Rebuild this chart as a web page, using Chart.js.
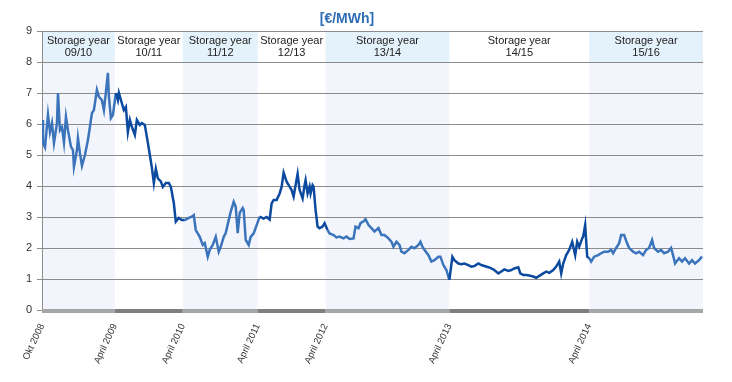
<!DOCTYPE html>
<html lang="en">
<head>
  <meta charset="UTF-8" />
  <title>Storage year spreads [€/MWh]</title>
  <script src="https://cdn.jsdelivr.net/npm/chart.js"></script>
  <style>
    body { margin:0; background:#fff; }
    #wrap { width:732px; height:382px; }
  </style>
</head>
<body>
  <div id="wrap"><canvas id="chart"></canvas></div>
  <script>
    // ==== data ====
    const bandStarts = [0, 73, 141, 216, 284, 408, 548];
    const bandEnd = 662;
    const bandNames = ['09/10', '10/11', '11/12', '12/13', '13/14', '14/15', '15/16'];
    const tickLabels = ['Okt 2008', 'April 2009', 'April 2010', 'April 2011', 'April 2012', 'April 2013', 'April 2014'];

    const days = [
      0, 1, 3, 6, 8, 10, 12, 15, 16, 18, 20, 22, 24, 26, 29, 31, 32, 35, 36, 38,
      40, 43, 46, 48, 50, 52, 55, 57, 60, 62, 64, 66, 67, 69, 71, 74, 76, 77, 80, 82,
      84, 86, 88, 90, 93, 95, 98, 100, 103, 106, 108, 110, 112, 114, 116, 119, 121, 124, 127, 129,
      132, 134, 137, 140, 143, 147, 150, 152, 154, 158, 161, 163, 166, 168, 171, 174, 177, 179, 182, 184,
      187, 189, 192, 194, 196, 198, 201, 202, 204, 207, 209, 212, 215, 218, 222, 225, 228, 230, 232, 235,
      238, 240, 242, 245, 248, 250, 252, 254, 256, 258, 261, 263, 264, 266, 268, 269, 271, 272, 274, 276,
      278, 281, 283, 286, 288, 292, 295, 298, 302, 305, 308, 312, 314, 317, 319, 322, 324, 327, 330, 333,
      337, 340, 343, 347, 350, 352, 355, 358, 360, 363, 367, 370, 373, 377, 379, 381, 383, 387, 390, 393,
      397, 399, 402, 405, 408, 411, 413, 417, 420, 423, 427, 430, 433, 437, 440, 443, 447, 450, 453, 457,
      460, 463, 467, 470, 473, 477, 479, 482, 485, 488, 492, 495, 498, 502, 505, 508, 512, 515, 518, 520,
      522, 525, 528, 531, 534, 536, 538, 541, 542, 544, 546, 548, 550, 553, 557, 560, 563, 567, 570, 572,
      575, 578, 580, 583, 586, 588, 592, 595, 598, 602, 605, 608, 611, 613, 617, 620, 623, 627, 630, 632,
      634, 638, 641, 644, 648, 651, 654, 658, 661
    ];
    const price = [
      6.13, 5.39, 5.25, 6.30, 5.74, 6.03, 5.39, 6.03, 7.00, 5.80, 5.90, 5.40, 6.23, 5.80, 5.27, 5.16, 4.62, 5.16, 5.55, 5.06,
      4.65, 5.00, 5.48, 5.91, 6.35, 6.45, 7.10, 6.88, 6.77, 6.45, 7.03, 7.65, 6.88, 6.19, 6.29, 7.00, 6.77, 7.00, 6.67, 6.45,
      6.55, 5.74, 6.13, 5.91, 5.65, 6.13, 5.97, 6.03, 5.97, 5.40, 5.00, 4.60, 4.10, 4.55, 4.25, 4.15, 3.97, 4.10, 4.10, 3.98,
      3.45, 2.85, 2.97, 2.90, 2.90, 2.97, 3.01, 3.06, 2.58, 2.36, 2.10, 2.16, 1.72, 1.94, 2.10, 2.36, 1.88, 2.04, 2.36, 2.48,
      2.90, 3.17, 3.49, 3.33, 2.48, 3.13, 3.29, 3.23, 2.26, 2.10, 2.36, 2.47, 2.74, 3.01, 2.95, 3.00, 2.92, 3.44, 3.55, 3.55,
      3.76, 3.98, 4.43, 4.14, 3.98, 3.87, 3.66, 4.03, 4.39, 3.87, 3.60, 4.03, 4.19, 3.76, 3.98, 3.76, 4.03, 3.98, 3.23, 2.69,
      2.64, 2.69, 2.80, 2.58, 2.47, 2.42, 2.34, 2.37, 2.31, 2.37, 2.29, 2.31, 2.69, 2.64, 2.80, 2.86, 2.93, 2.74, 2.64, 2.53,
      2.64, 2.42, 2.42, 2.31, 2.20, 2.04, 2.20, 2.10, 1.88, 1.83, 1.94, 2.04, 1.99, 2.10, 2.20, 2.04, 1.94, 1.77, 1.56, 1.61,
      1.72, 1.72, 1.45, 1.29, 0.97, 1.72, 1.61, 1.50, 1.48, 1.50, 1.45, 1.40, 1.42, 1.50, 1.45, 1.42, 1.38, 1.34, 1.29, 1.18,
      1.24, 1.31, 1.26, 1.29, 1.34, 1.38, 1.18, 1.13, 1.13, 1.11, 1.08, 1.04, 1.10, 1.18, 1.24, 1.20, 1.29, 1.40, 1.56, 1.18,
      1.50, 1.77, 1.94, 2.20, 1.77, 2.20, 2.04, 2.31, 2.37, 2.74, 1.72, 1.67, 1.56, 1.72, 1.77, 1.83, 1.88, 1.88, 1.94, 1.83,
      2.00, 2.15, 2.42, 2.42, 2.15, 2.00, 1.88, 1.83, 1.88, 1.77, 1.94, 2.00, 2.26, 2.00, 1.88, 1.94, 1.83, 1.88, 2.00, 1.77,
      1.50, 1.67, 1.56, 1.67, 1.50, 1.61, 1.50, 1.61, 1.72
    ];
    // ===================================

    const LIGHT = '#3b74bb', DARK = '#0c4a9f';
    function bandOf(x) {
      let b = 0;
      bandStarts.forEach((s, i) => { if (x >= s) b = i; });
      return b;
    }

    const bands = {
      id: 'bands',
      beforeDraw(chart) {
        const {ctx, chartArea} = chart;
        const xs = chart.scales.x, ys = chart.scales.y;
        const yHead = ys.getPixelForValue(8);
        ctx.save();
        bandStarts.forEach((s, i) => {
          const x0 = xs.getPixelForValue(s);
          const x1 = xs.getPixelForValue(i < bandStarts.length - 1 ? bandStarts[i+1] : bandEnd);
          if (i % 2 === 0) {
            ctx.fillStyle = '#f2f6fc';
            ctx.fillRect(x0, yHead, x1 - x0, chartArea.bottom - yHead);
            ctx.fillStyle = '#e4f2fb';
            ctx.fillRect(x0, chartArea.top, x1 - x0, yHead - chartArea.top);
          }
          ctx.fillStyle = '#222';
          ctx.font = '11px "Liberation Sans", Arial, sans-serif';
          ctx.textAlign = 'center';
          ctx.textBaseline = 'middle';
          const cx = (x0 + x1) / 2;
          ctx.fillText('Storage year', cx, chartArea.top + 10);
          ctx.fillText(bandNames[i], cx, chartArea.top + 22);
        });
        ctx.restore();
      },
      afterDraw(chart) {
        const {ctx, chartArea} = chart;
        const xs = chart.scales.x;
        ctx.save();
        bandStarts.forEach((s, i) => {
          const x0 = xs.getPixelForValue(s);
          const x1 = xs.getPixelForValue(i < bandStarts.length - 1 ? bandStarts[i+1] : bandEnd);
          ctx.fillStyle = i % 2 === 0 ? '#a6a6a6' : '#7f7f7f';
          ctx.fillRect(x0, chartArea.bottom - 1, x1 - x0, 4);
        });
        ctx.fillStyle = '#2f6cb5';
        ctx.font = 'bold 14px "Liberation Sans", Arial, sans-serif';
        ctx.textAlign = 'center';
        ctx.textBaseline = 'middle';
        ctx.fillText('[€/MWh]', 347, 19);
        ctx.restore();
      }
    };

    new Chart(document.getElementById('chart'), {
      type: 'line',
      data: {
        datasets: [{
          label: 'Storage year spread',
          data: days.map((d, i) => ({x: d, y: price[i]})),
          borderWidth: 2.5,
          borderColor: LIGHT,
          pointRadius: 0,
          tension: 0,
          segment: { borderColor: c => bandOf(c.p0.parsed.x) % 2 ? DARK : LIGHT }
        }]
      },
      plugins: [bands],
      options: {
        responsive: true, maintainAspectRatio: false, animation: false,
        layout: { padding: { top: 31, right: 29, left: 0, bottom: 0 } },
        plugins: { legend: { display: false }, tooltip: { enabled: false } },
        scales: {
          x: {
            type: 'linear', min: 0, max: bandEnd,
            afterBuildTicks: s => { s.ticks = bandStarts.map(v => ({value: v})); },
            afterFit: s => { s.height = 72; },
            grid: { display: false }, border: { display: false },
            ticks: {
              autoSkip: false, minRotation: 65, maxRotation: 65, padding: 4,
              color: '#333', font: { family: '"Liberation Sans", Arial', size: 9.5 },
              callback: (v, i) => tickLabels[i]
            }
          },
          y: {
            min: 0, max: 9,
            afterFit: s => { s.width = 42; },
            grid: { color: '#8c8c8c', tickLength: 5 },
            border: { color: '#8c8c8c' },
            ticks: { stepSize: 1, padding: 5, color: '#333', font: { family: '"Liberation Sans", Arial', size: 11 } }
          }
        }
      }
    });
  </script>
</body>
</html>
